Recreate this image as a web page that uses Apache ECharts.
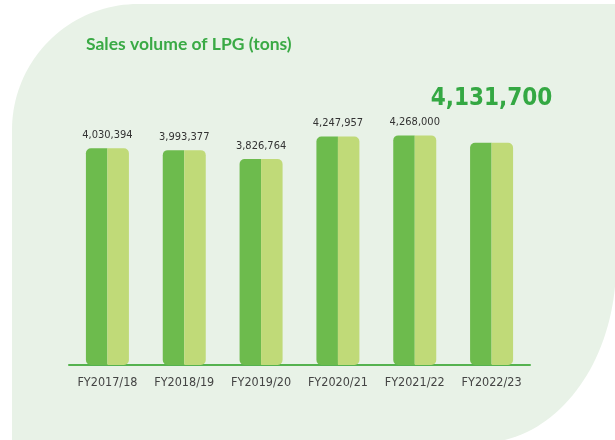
<!DOCTYPE html>
<html><head><meta charset="utf-8">
<script src="https://cdn.jsdelivr.net/npm/echarts@6/dist/echarts.min.js"></script>
<style>html,body{margin:0;padding:0;background:#fff}#c{width:615px;height:440px}</style>
</head><body><div id="c"></div>
<script>
const categories = ['FY2017/18','FY2018/19','FY2019/20','FY2020/21','FY2021/22','FY2022/23'];
const salesVolume = [4030394, 3993377, 3826764, 4247957, 4268000, 4131700];
const titleText = 'Sales volume of LPG (tons)';

const chart = echarts.init(document.getElementById('c'), null, {renderer:'canvas'});
const narrow = "'DejaVu Sans Condensed',sans-serif";
const fmt = v => v.toLocaleString('en-US');
const last = salesVolume.length - 1;

function arcPts(cx, cy, rx, ry, a0, a1, n){
  const pts=[];
  for(let k=0;k<=n;k++){const a=a0+(a1-a0)*k/n; pts.push([cx+rx*Math.cos(a), cy+ry*Math.sin(a)]);}
  return pts;
}
const panel = [[12,446]]
  .concat(arcPts(138,130,126,126,Math.PI,1.5*Math.PI,40))
  .concat([[616,4]])
  .concat(arcPts(480,265,136,178,0,0.5*Math.PI,40))
  .concat([[12,446]]);

chart.setOption({
  animation:false,
  backgroundColor:'#ffffff',
  graphic:[{
    type:'polygon', z:-10, silent:true,
    shape:{points:panel},
    style:{fill:'#e8f2e7'}
  }],
  title:{text:titleText, left:81, top:30,
    textStyle:{color:'#3aaa45', fontSize:17.5, fontWeight:'bold', fontFamily:'Lato'}},
  grid:{left:69, right:85, top:96, bottom:75},
  xAxis:{type:'category', data:categories,
    axisLine:{lineStyle:{color:'#55b24f', width:2}},
    axisTick:{show:false},
    axisLabel:{color:'#444', fontSize:12.5, fontFamily:narrow, margin:11, interval:0}},
  yAxis:{type:'value', min:0, max:5000000, show:false, splitLine:{show:false}},
  series:[
    {type:'bar', data:salesVolume, barWidth:21.5, barGap:0,
      itemStyle:{color:'#6dbb4d', borderRadius:[5,0,0,5]}},
    {type:'bar', data:salesVolume, barWidth:21.5, barGap:0,
      itemStyle:{color:'#c0da78', borderRadius:[0,5,5,0]}},
    {type:'scatter', data:salesVolume.map((v,i)=>({value:v,
        label: i===last ? {fontSize:24, fontWeight:'bold', color:'#34a843', distance:31}
                        : {fontSize:11, color:'#333', distance:7}})),
      symbolSize:1, itemStyle:{color:'rgba(0,0,0,0)'}, silent:true, z:5,
      label:{show:true, position:'top', fontFamily:narrow, opacity:1, formatter:p=>fmt(p.value)}}
  ]
});
</script></body></html>
